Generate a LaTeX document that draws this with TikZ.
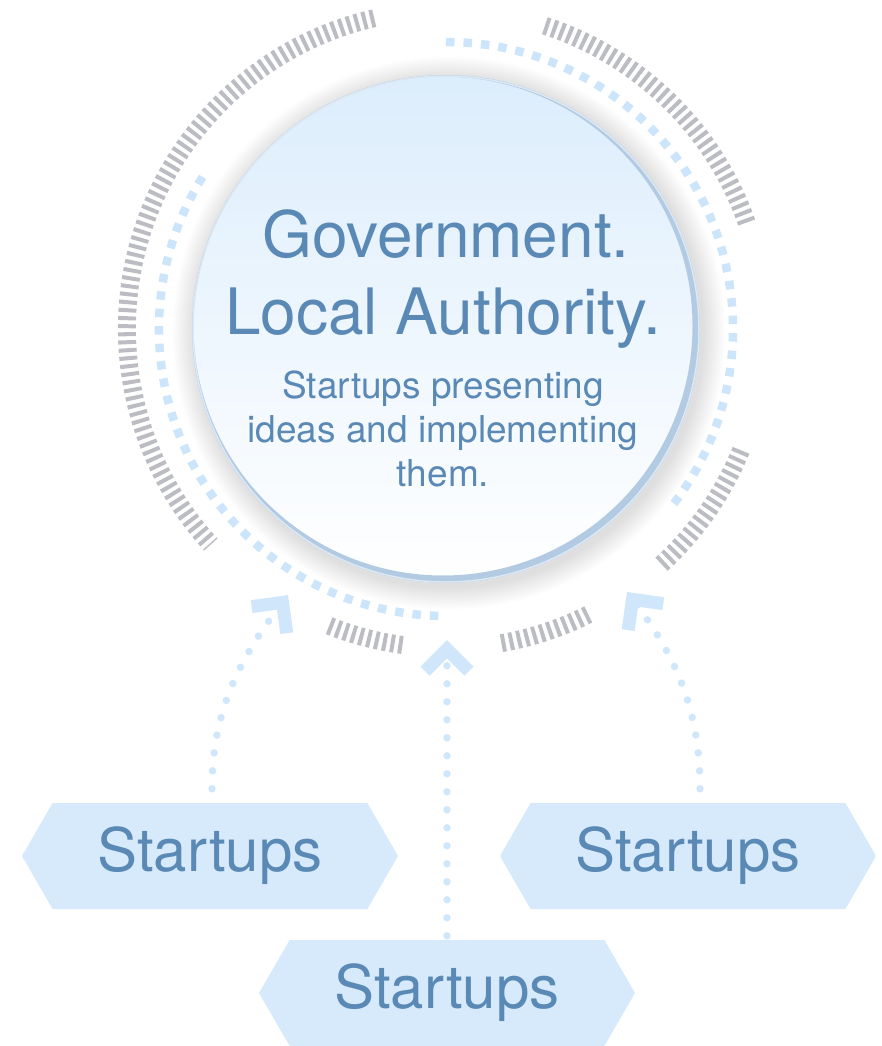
\documentclass[tikz,border=0pt]{standalone}
\usepackage{fontspec}
\setmainfont{TeX Gyre Heros}
\usetikzlibrary{shapes.symbols,arrows.meta}

\definecolor{govtext}{RGB}{90,137,181}
\definecolor{hexfill}{RGB}{214,234,251}
\definecolor{dashblue}{RGB}{204,229,250}
\definecolor{tickgray}{RGB}{188,189,194}
\definecolor{rimblue}{RGB}{178,203,227}
\definecolor{discblue}{RGB}{220,237,252}
\definecolor{discmid}{RGB}{236,245,253}
\definecolor{dotblue}{RGB}{208,230,250}

\newcommand{\discrad}{254}
\newcommand{\dashrad}{287}
\newcommand{\tickrad}{319}

\tikzset{
  startup/.style={signal, signal to=west and east, signal pointer angle=120,
    fill=hexfill, minimum width=376pt, minimum height=106pt, inner sep=0pt,
    text=govtext, font=\fontsize{60}{60}\selectfont},
  govtitle/.style={text=govtext, inner sep=0pt, anchor=base, font=\fontsize{64}{70}\selectfont},
  govsub/.style={text=govtext, inner sep=0pt, align=center, font=\fontsize{37}{44}\selectfont},
  tickarc/.style={tickgray, line width=18pt, dash pattern=on 4pt off 4pt},
  ringdash/.style={dashblue, line width=8.5pt, dash pattern=on 8.5pt off 9pt},
  feed/.style={dotblue, line width=7.5pt, line cap=round, dash pattern=on 0pt off 18pt,
    -{Straight Barb[length=22pt, width=44pt, line width=13pt]}}
}

\begin{document}
\begin{tikzpicture}[x=1pt, y=1pt]
  \useasboundingbox (-446,-717) rectangle (435,329);

  % soft shadow under the disc
  \foreach \k in {1,...,16}
    \fill[black, opacity=0.008] (3,-4) circle ({\discrad+\k*1.4});

  \node[circle, minimum size=508pt, inner sep=0pt, shading angle=45,
    top color=discblue, middle color=discmid, bottom color=white] (gov) at (0,0) {};
  \fill[rimblue, even odd rule] (gov.center) circle (\discrad) (-3,3) circle (249.5);
  \draw[rimblue!45, line width=1.5pt] (gov.center) circle (253);

  \node[govtitle] (gov1) at (0,71) {Government.};
  \node[govtitle] (gov2) at (-3,-6) {Local Authority.};
  \node[govsub, anchor=north] (gov3) at (-3,-42) {Startups presenting\\ ideas and implementing\\ them.};

  % rings
  \draw[ringdash] (90:\dashrad) arc[start angle=90, end angle=-38, radius=\dashrad];
  \draw[ringdash] (148:\dashrad) arc[start angle=148, end angle=269, radius=\dashrad];
  \foreach \from/\to in {103/222.5, 19.5/72, -47.5/-22, 248.5/262.5, -80/-63.5}
    \draw[tickarc] (\from:\tickrad) arc[start angle=\from, end angle=\to, radius=\tickrad];

  \node[startup] (s1) at (-236,-527) {Startups};
  \node[startup] (s2) at (242,-527) {Startups};
  \node[startup] (s3) at (1,-664) {Startups};

  \coordinate (tipL) at (-158,-266);
  \coordinate (tipM) at (1,-311);
  \coordinate (tipR) at (181,-263);

  \draw[feed, shorten <=14pt] ([xshift=2pt]s1.north) to[out=90, in=233] (tipL);
  \draw[feed, shorten <=4pt] (s3.north) -- (tipM);
  \draw[feed, shorten <=14pt] ([xshift=12pt]s2.north) to[out=90, in=-53] (tipR);
\end{tikzpicture}
\end{document}
